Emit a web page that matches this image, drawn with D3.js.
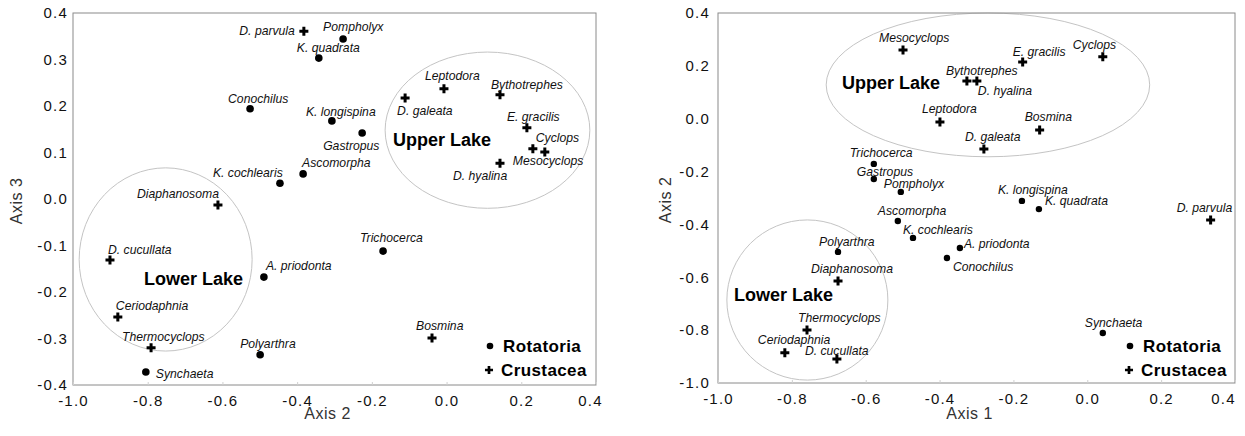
<!DOCTYPE html>
<html><head><meta charset="utf-8">
<script src="https://cdn.jsdelivr.net/npm/d3@7/dist/d3.min.js"></script>
<style>
body{margin:0;background:#fff;}
svg{display:block;}
text{font-family:"Liberation Sans",Arial,sans-serif;}
</style></head>
<body><svg id="c" width="1245" height="436"></svg>
<script>
// ---------- DATA ----------
const xTicks = [-1.0, -0.8, -0.6, -0.4, -0.2, 0.0, 0.2, 0.4];
const leftYTicks = [-0.4, -0.3, -0.2, -0.1, 0.0, 0.1, 0.2, 0.3, 0.4];
const rightYTicks = [-1.0, -0.8, -0.6, -0.4, -0.2, 0.0, 0.2, 0.4];

// Left panel: Axis 2 (x) vs Axis 3 (y)
const leftNames = ["D. parvula","Pompholyx","K. quadrata","Conochilus","K. longispina","Gastropus","Ascomorpha","K. cochlearis","Diaphanosoma","D. cucullata","Ceriodaphnia","Thermocyclops","Synchaeta","Polyarthra","A. priodonta","Trichocerca","Bosmina","D. galeata","Leptodora","Bythotrephes","E. gracilis","Cyclops","Mesocyclops","D. hyalina"];
const leftAxis2 = [-0.382,-0.277,-0.342,-0.526,-0.307,-0.226,-0.384,-0.446,-0.612,-0.901,-0.880,-0.791,-0.805,-0.499,-0.489,-0.170,-0.039,-0.111,-0.007,0.143,0.215,0.263,0.231,0.143];
const leftAxis3 = [0.361,0.344,0.303,0.194,0.168,0.142,0.054,0.034,-0.013,-0.131,-0.254,-0.320,-0.372,-0.335,-0.168,-0.112,-0.299,0.217,0.237,0.224,0.153,0.101,0.108,0.077];
const leftGroup = ["C","R","R","R","R","R","R","R","C","C","C","C","R","R","R","R","C","C","C","C","C","C","C","C"];

// Right panel: Axis 1 (x) vs Axis 2 (y)
const rightNames = ["Mesocyclops","E. gracilis","Cyclops","Bythotrephes","D. hyalina","Leptodora","Bosmina","D. galeata","Trichocerca","Gastropus","Pompholyx","Ascomorpha","K. cochlearis","A. priodonta","Conochilus","K. longispina","K. quadrata","D. parvula","Synchaeta","Polyarthra","Diaphanosoma","Thermocyclops","Ceriodaphnia","D. cucullata"];
const rightAxis1 = [-0.499,-0.175,0.042,-0.326,-0.299,-0.399,-0.129,-0.280,-0.578,-0.578,-0.505,-0.513,-0.472,-0.345,-0.380,-0.177,-0.131,0.334,0.042,-0.675,-0.675,-0.759,-0.819,-0.678];
const rightAxis2 = [0.260,0.215,0.234,0.143,0.143,-0.012,-0.043,-0.115,-0.171,-0.228,-0.277,-0.387,-0.451,-0.489,-0.527,-0.311,-0.342,-0.383,-0.811,-0.504,-0.614,-0.799,-0.886,-0.909];
const rightGroup = ["C","C","C","C","C","C","C","C","R","R","R","R","R","R","R","R","R","C","R","R","C","C","C","C"];

// Lake groupings (ellipses in data units: cx, cy, rx, ry)
const lakeNames = ["Upper Lake","Lower Lake"];
const leftLakes = [[0.1095,0.148,0.274,0.168],[-0.752,-0.130,0.2315,0.197]];
const rightLakes = [[-0.269,0.128,0.438,0.272],[-0.758,-0.686,0.218,0.303]];

const legendNames = ["Rotatoria","Crustacea"];

// ---------- LAYOUT (pixel offsets for labels) ----------
const leftLabelOff = [[-9,0,"end"],[-20,-12],[-22,-10],[-22,-10],[-26,-9],[-39,13],[-1,-11],[-67,-10],[-81,-11],[-2,-10],[-2,-11],[-29,-11],[10,2],[-20,-11],[2,-11],[-23,-13],[-16,-12],[-8,13],[-19,-13],[-9,-10],[-20,-11],[-9,-14],[-20,12],[-47,13]];
const rightLabelOff = [[-24,-12],[-10,-10],[-30,-12],[-21,-10],[1,10],[-18,-13],[-15,-13],[-19,-12],[-24,-11],[-17,-7],[-17,-8],[-20,-10],[-10,-8],[4,-4],[6,9],[-24,-11],[6,-8],[-34,-12],[-18,-10],[-19,-10],[-27,-12],[-9,-12],[-27,-13],[-32,-8]];

const svg = d3.select("#c");
const fmt = d => Math.abs(d) < 1e-9 ? "0.0" : d.toFixed(1);

function panel(o) {
  const x = d3.scaleLinear().domain([-1.0, 0.4]).range([o.x0, o.x1]);
  const y = d3.scaleLinear().domain(o.yDom).range([o.y1, o.y0]);
  const g = svg.append("g");

  // ellipses
  o.lakes.forEach((e, i) => {
    g.append("ellipse")
      .attr("cx", x(e[0])).attr("cy", y(e[1]))
      .attr("rx", x(e[0] + e[2]) - x(e[0])).attr("ry", y(e[1]) - y(e[1] + e[3]))
      .attr("fill", "none").attr("stroke", "#c4c4c4").attr("stroke-width", 1);
  });
  o.lakes.forEach((e, i) => {
    g.append("text").attr("x", o.lakeLab[i][0]).attr("y", o.lakeLab[i][1])
      .attr("font-size", "18px").attr("font-weight", "bold").attr("fill", "#000")
      .text(lakeNames[i]);
  });

  // frame
  g.append("rect").attr("x", o.x0).attr("y", o.y0)
    .attr("width", o.x1 - o.x0).attr("height", o.y1 - o.y0)
    .attr("fill", "none").attr("stroke", "#8a8a8a").attr("stroke-width", 1);

  // axes
  const xa = g.append("g").attr("transform", `translate(0,${o.y1})`)
    .call(d3.axisBottom(x).tickValues(xTicks).tickFormat(fmt).tickSize(-3).tickPadding(10));
  xa.select(".domain").remove();
  xa.selectAll("line").attr("stroke", "#d0d0d0");
  xa.selectAll("text").attr("font-size", "15px").attr("fill", "#111")
    .attr("letter-spacing", "1.2px")
    .attr("font-family", "Liberation Sans, Arial, sans-serif")
    .attr("dx", (d, i) => i === xTicks.length - 1 ? o.lastShift : 0);

  const ya = g.append("g").attr("transform", `translate(${o.x0},0)`)
    .call(d3.axisLeft(y).tickValues(o.yTicks).tickFormat(fmt).tickSize(0).tickPadding(o.yPad));
  ya.select(".domain").remove();
  ya.selectAll("text").attr("font-size", "15px").attr("fill", "#111")
    .attr("letter-spacing", "1.2px")
    .attr("font-family", "Liberation Sans, Arial, sans-serif");

  g.append("text").attr("x", (o.x0 + o.x1) / 2 - 7).attr("y", 419)
    .attr("text-anchor", "middle").attr("font-size", "16px").attr("fill", "#333")
    .attr("letter-spacing", "0.5px")
    .text(o.xTitle);
  g.append("text").attr("transform", `translate(${o.yTitleX},${(o.y0 + o.y1) / 2 + 2}) rotate(-90)`)
    .attr("text-anchor", "middle").attr("font-size", "16px").attr("fill", "#333")
    .attr("letter-spacing", "0.5px")
    .text(o.yTitle);

  // points
  o.names.forEach((n, i) => {
    const px = x(o.xs[i]), py = y(o.ys[i]);
    if (o.groups[i] === "R") {
      g.append("circle").attr("cx", px).attr("cy", py).attr("r", o.dotR).attr("fill", "#000");
    } else {
      g.append("path").attr("d", d3.symbol(d3.symbolCross, 45)())
        .attr("transform", `translate(${px},${py})`).attr("fill", "#000");
    }
    const off = o.off[i];
    g.append("text").attr("x", px + off[0]).attr("y", py + off[1] + 4)
      .attr("text-anchor", off[2] || "start")
      .attr("font-size", "12.2px").attr("font-style", "italic").attr("fill", "#111")
      .text(n);
  });

  // legend
  const lx = o.legend[0], ly = o.legend[1];
  g.append("circle").attr("cx", lx).attr("cy", ly).attr("r", 3.3).attr("fill", "#000");
  g.append("path").attr("d", d3.symbol(d3.symbolCross, 36)())
    .attr("transform", `translate(${lx - 1},${ly + 24})`).attr("fill", "#000");
  g.append("text").attr("x", lx + 13).attr("y", ly + 6).attr("font-size", "17px")
    .attr("letter-spacing", "0.4px")
    .attr("font-weight", "bold").text(legendNames[0]);
  g.append("text").attr("x", lx + 11).attr("y", ly + 30).attr("font-size", "17px")
    .attr("letter-spacing", "0.4px")
    .attr("font-weight", "bold").text(legendNames[1]);
}

panel({x0: 73, x1: 596, y0: 13, y1: 385, yDom: [-0.4, 0.4], yTicks: leftYTicks, yPad: 5,
  names: leftNames, xs: leftAxis2, ys: leftAxis3, groups: leftGroup, off: leftLabelOff,
  lakes: leftLakes, lakeLab: [[393, 146], [144, 285]], dotR: 3.8, lastShift: -6,
  xTitle: "Axis 2", yTitle: "Axis 3", yTitleX: 22, legend: [490, 346]});

panel({x0: 718, x1: 1235, y0: 13, y1: 383, yDom: [-1.0, 0.4], yTicks: rightYTicks, yPad: 8,
  names: rightNames, xs: rightAxis1, ys: rightAxis2, groups: rightGroup, off: rightLabelOff,
  lakes: rightLakes, lakeLab: [[842, 89], [734, 301]], dotR: 3.2, lastShift: -12,
  xTitle: "Axis 1", yTitle: "Axis 2", yTitleX: 671, legend: [1130, 346]});
</script>
</body></html>
